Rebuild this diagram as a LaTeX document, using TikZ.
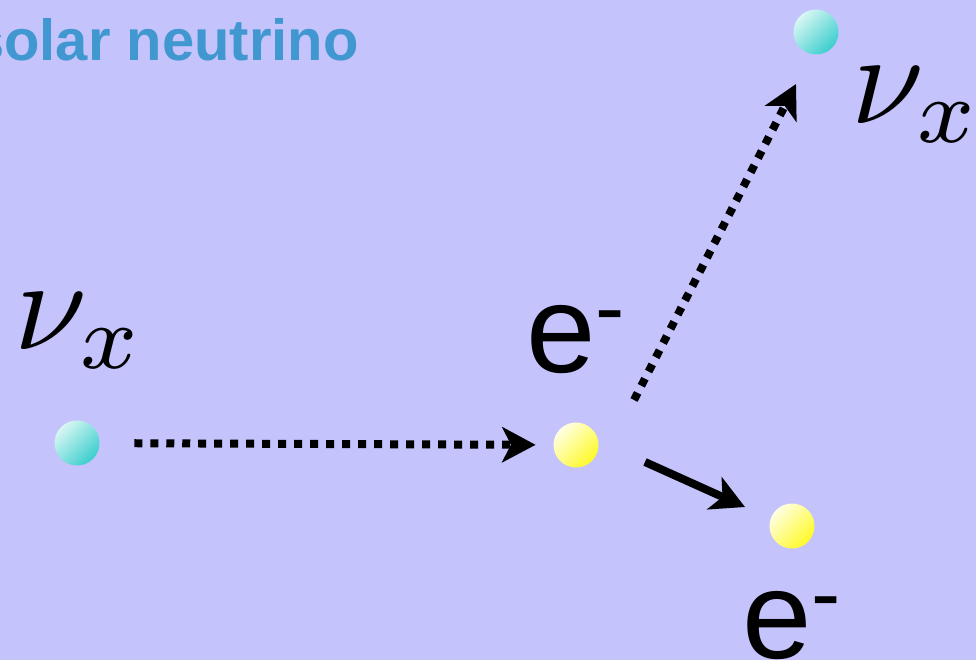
\documentclass[tikz,border=0pt]{standalone}
\usepackage{fontspec}
\newfontfamily\arialfont{Liberation Sans}
\usetikzlibrary{arrows.meta,calc}
\definecolor{Backdrop}{HTML}{C4C3FC}
\definecolor{TitleBlue}{HTML}{4197D0}
\definecolor{NuLight}{HTML}{D8F7F3}
\definecolor{NuDark}{HTML}{3BCECE}
\definecolor{ELight}{HTML}{FFFFE2}
\definecolor{EDark}{HTML}{FFF928}
\newcommand{\eminus}{e\raisebox{19.5pt}{\fontsize{50}{50}\selectfont -}}

\begin{document}
\begin{tikzpicture}[x=0.02cm,y=-0.02cm,
  every node/.style={inner sep=0pt},
  ball/.style={circle,minimum size=0.9cm},
  nuball/.style={ball,top color=NuLight,bottom color=NuDark,shading angle=45},
  eball/.style={ball,top color=ELight,bottom color=EDark,shading angle=45},
  nulabel/.style={anchor=base west,scale=7.45},
  elabel/.style={anchor=base west,font=\arialfont\fontsize{71}{76}\selectfont},
  headtip/.style={-{Stealth[length=19pt,width=20pt,inset=5pt]}},
  flight/.style={headtip,line width=4.55pt,dash pattern=on 4.55pt off 4.55pt},
  recoil/.style={headtip,line width=4.55pt}]
\fill[Backdrop] (0,0) rectangle (976,660);
\useasboundingbox (0,0) rectangle (976,660);

\node[anchor=base east,text=TitleBlue,font=\arialfont\bfseries\fontsize{33}{38}\selectfont]
  (title) at (359,60) {solar neutrino};

\foreach \n/\x/\y/\k in {nuin/77/443/nuball,etarget/576/445/eball,
                         nuout/816/32/nuball,erecoil/792/526/eball}
  \node[\k] (\n) at (\x,\y) {};

\node[nulabel] (nuinlbl) at (12,349) {$\nu_x$};
\node[nulabel] (nuoutlbl) at (849,123) {$\nu_x$};
\node[elabel] (etargetlbl) at (526,372) {\eminus};
\node[elabel] (erecoillbl) at (742,658) {\eminus};

% free ends of the two outgoing tracks
\coordinate (scatterstart) at (634,400);
\coordinate (scatterend) at (796,84);
\coordinate (kickstart) at (645,462);
\coordinate (kickend) at (745,507);

\draw[flight,shorten <=19.6pt,shorten >=10pt] (nuin) -- (etarget);
\draw[flight] (scatterstart) -- (scatterend);
\draw[recoil] (kickstart) -- (kickend);
\end{tikzpicture}
\end{document}
